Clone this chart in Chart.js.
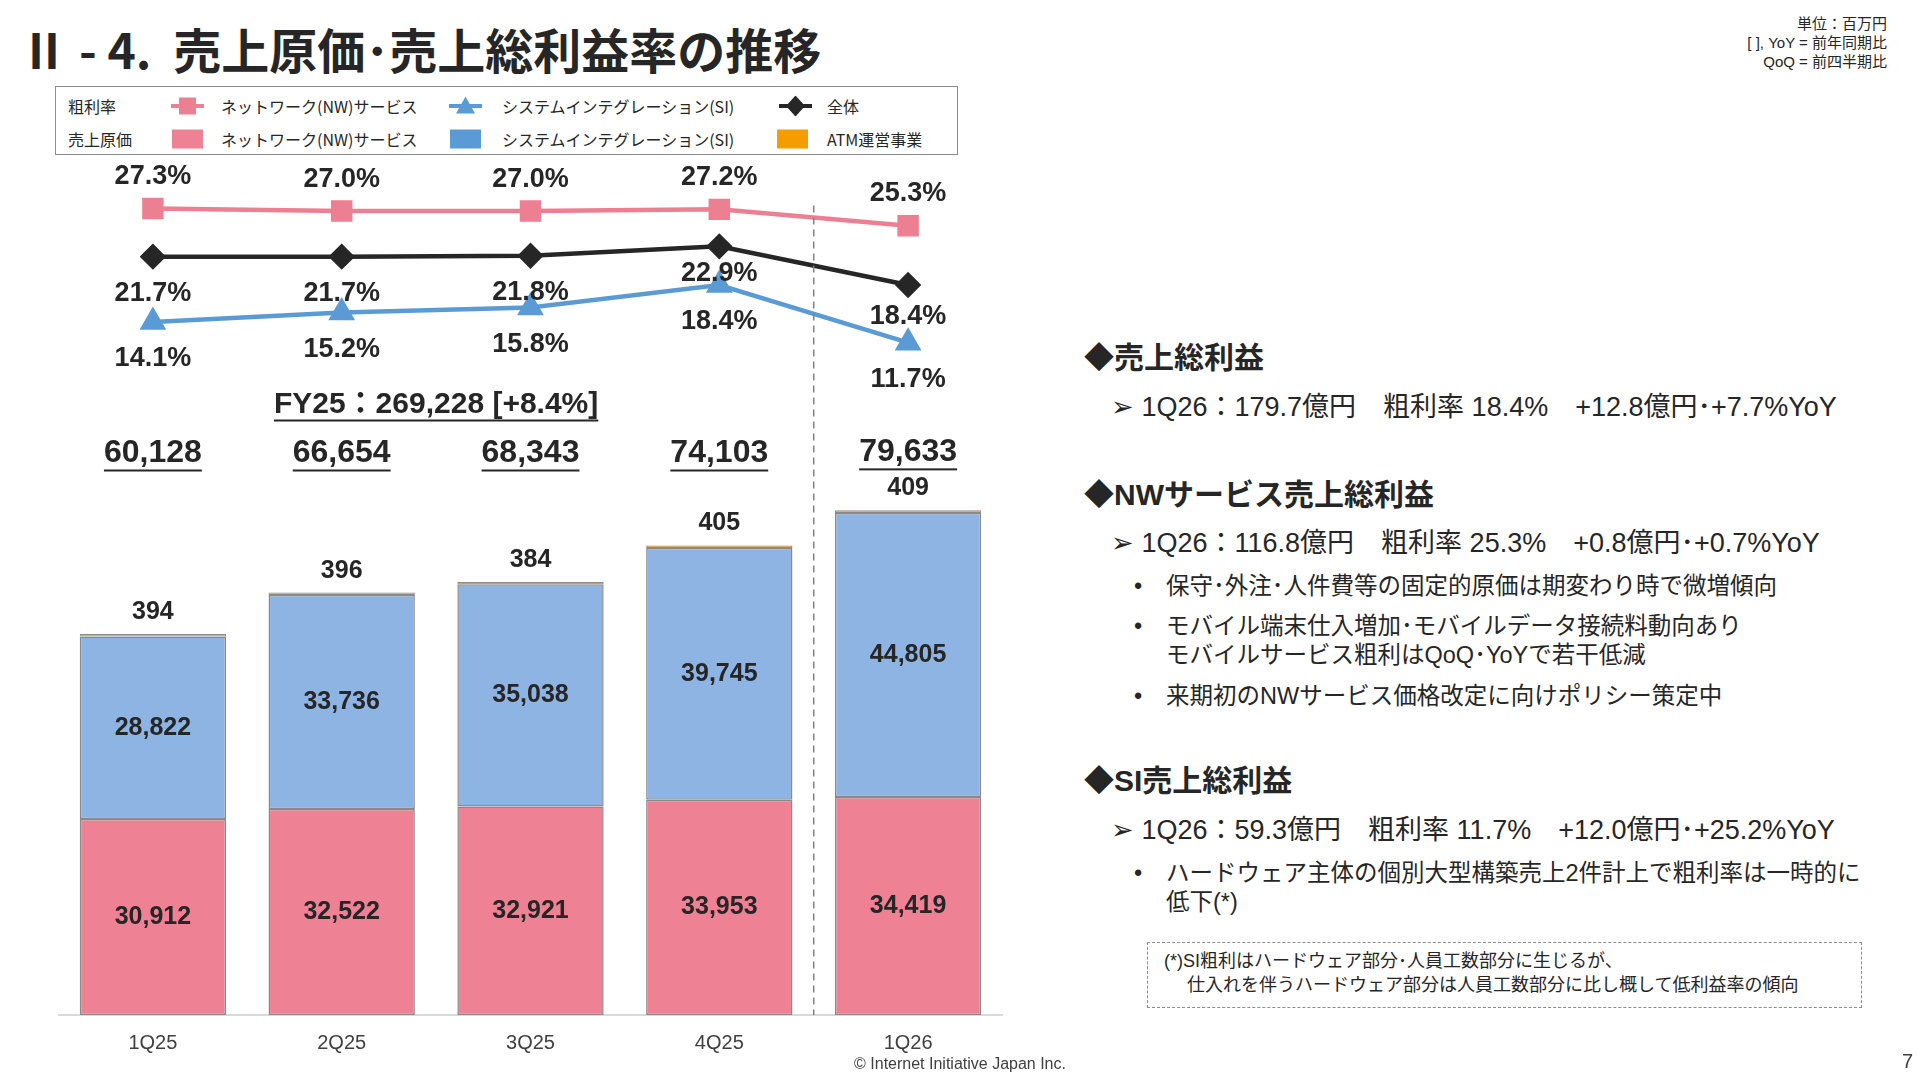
<!DOCTYPE html>
<html lang="ja">
<head>
<meta charset="utf-8">
<title>売上原価・売上総利益率の推移</title>
<script src="https://cdn.jsdelivr.net/npm/chart.js@4.4.1/dist/chart.umd.min.js"></script>
<style>
  html, body { margin: 0; padding: 0; background: #fff; }
  body { width: 1920px; height: 1081px; position: relative; overflow: hidden;
         font-family: "Liberation Sans", "Noto Sans CJK JP", sans-serif; color: #262626; }
  .abs { position: absolute; white-space: nowrap; }
  #title { left: 20px; top: 15px; font-size: 48px; font-weight: bold; line-height: 66px;
           font-family: "Noto Sans CJK JP", sans-serif; }
  #notes { right: 33px; top: 14px; font-size: 15px; line-height: 19px; text-align: right; }
  #legend { left: 55px; top: 86px; width: 901px; height: 67px; border: 1px solid #8c8c8c; }
  .lg { position: absolute; font-size: 16px; line-height: 20px; transform: translateY(-50%);
        font-family: "Noto Sans CJK JP", sans-serif; }
  .lg svg { display: block; }
  #wrap { position: absolute; left: 42px; top: 143px; width: 977px; height: 928px; }
  .side h3 { margin: 0; font-size: 30px; font-weight: bold; line-height: 36px; }
  .side p { margin: 0; font-size: 27px; line-height: 32px; }
  .bl { font-size: 23.5px; line-height: 29px; }
  #note { left: 1147px; top: 942px; width: 713px; height: 64px; border: 1.5px dashed #8c8c8c;
          font-size: 18px; line-height: 24px; }
  #foot { left: 0; width: 1920px; top: 1055px; text-align: center; font-size: 16px; color: #404040; }
  #page { left: 1902px; top: 1050px; font-size: 20px; color: #404040; }
</style>
</head>
<body>
<div id="title" class="abs">Ⅱ - 4.&nbsp;&nbsp;売上原価･売上総利益率の推移</div>
<div id="notes" class="abs">単位：百万円<br>[ ], YoY = 前年同期比<br>QoQ = 前四半期比</div>

<div id="legend" class="abs"></div>

<div id="wrap"><canvas id="costChart"></canvas></div>

<div class="abs side" style="left:1084px; top:340px;"><h3>◆売上総利益</h3></div>
<div class="abs side" style="left:1111px; top:391px;"><p>➢ 1Q26：179.7億円　粗利率 18.4%　+12.8億円･+7.7%YoY</p></div>
<div class="abs side" style="left:1084px; top:477px;"><h3>◆NWサービス売上総利益</h3></div>
<div class="abs side" style="left:1111px; top:527px;"><p>➢ 1Q26：116.8億円　粗利率 25.3%　+0.8億円･+0.7%YoY</p></div>
<div class="abs side bl" style="left:1134px; top:572px;">•</div>
<div class="abs side bl" style="left:1166px; top:572px;">保守･外注･人件費等の固定的原価は期変わり時で微増傾向</div>
<div class="abs side bl" style="left:1134px; top:612px;">•</div>
<div class="abs side bl" style="left:1166px; top:612px;">モバイル端末仕入増加･モバイルデータ接続料動向あり<br>モバイルサービス粗利はQoQ･YoYで若干低減</div>
<div class="abs side bl" style="left:1134px; top:682px;">•</div>
<div class="abs side bl" style="left:1166px; top:682px;">来期初のNWサービス価格改定に向けポリシー策定中</div>
<div class="abs side" style="left:1084px; top:763px;"><h3>◆SI売上総利益</h3></div>
<div class="abs side" style="left:1111px; top:814px;"><p>➢ 1Q26：59.3億円　粗利率 11.7%　+12.0億円･+25.2%YoY</p></div>
<div class="abs side bl" style="left:1134px; top:859px;">•</div>
<div class="abs side bl" style="left:1166px; top:859px;">ハードウェア主体の個別大型構築売上2件計上で粗利率は一時的に<br>低下(*)</div>
<div id="note" class="abs"><div style="padding:6px 0 0 16px;">(*)SI粗利はハードウェア部分･人員工数部分に生じるが、<br>　 仕入れを伴うハードウェア部分は人員工数部分に比し概して低利益率の傾向</div></div>

<div id="foot" class="abs">© Internet Initiative Japan Inc.</div>
<div id="page" class="abs">7</div>

<script>
// 四半期
const quarters = ['1Q25', '2Q25', '3Q25', '4Q25', '1Q26'];

// 売上原価（百万円）
const costNW  = [30912, 32522, 32921, 33953, 34419];
const costSI  = [28822, 33736, 35038, 39745, 44805];
const costATM = [394, 396, 384, 405, 409];

// 粗利率（%）
const marginNW    = [27.3, 27.0, 27.0, 27.2, 25.3];
const marginSI    = [14.1, 15.2, 15.8, 18.4, 11.7];
const marginTotal = [21.7, 21.7, 21.8, 22.9, 18.4];

const fyLabel = 'FY25：269,228 [+8.4%]';

// 色
const PINK = '#ee8194';
const PINK_LINE = '#ec7f91';
const BLUE = '#8eb4e3';
const BLUE_LINE = '#5b9bd5';
const ORANGE = '#f59c00';
const BLACK = '#262626';
const NUM_FONT = '"Liberation Sans", Arial, "Noto Sans CJK JP", sans-serif';

// 凡例（HTML）
function lineMarker(color, shape) {
    let mark = '';
    if (shape === 'rect') mark = `<rect x="8" y="2" width="17" height="17" fill="${color}"/>`;
    if (shape === 'tri') mark = `<polygon points="16.5,1 26,18 7,18" fill="${color}"/>`;
    if (shape === 'dia') mark = `<polygon points="16.5,0 26,10.5 16.5,21 7,10.5" fill="${color}"/>`;
    return `<svg width="33" height="21"><line x1="0" y1="10.5" x2="33" y2="10.5" stroke="${color}" stroke-width="4"/>${mark}</svg>`;
}
function boxMarker(color) {
    return `<svg width="33" height="21"><rect x="1" y="1" width="31" height="19" fill="${color}"/></svg>`;
}
const legendItems = [
    { x: 12,  y: 19, html: '粗利率' },
    { x: 115, y: 19, html: lineMarker(PINK_LINE, 'rect') },
    { x: 165, y: 19, html: 'ネットワーク(NW)サービス' },
    { x: 393, y: 19, html: lineMarker(BLUE_LINE, 'tri') },
    { x: 446, y: 19, html: 'システムインテグレーション(SI)' },
    { x: 723, y: 19, html: lineMarker(BLACK, 'dia') },
    { x: 771, y: 19, html: '全体' },
    { x: 12,  y: 52, html: '売上原価' },
    { x: 115, y: 52, html: boxMarker(PINK) },
    { x: 165, y: 52, html: 'ネットワーク(NW)サービス' },
    { x: 393, y: 52, html: boxMarker('#5b9bd5') },
    { x: 446, y: 52, html: 'システムインテグレーション(SI)' },
    { x: 720, y: 52, html: boxMarker(ORANGE) },
    { x: 771, y: 52, html: 'ATM運営事業' }
];
const legendEl = document.getElementById('legend');
legendItems.forEach(item => {
    const d = document.createElement('div');
    d.className = 'lg';
    d.style.left = item.x + 'px';
    d.style.top = item.y + 'px';
    d.innerHTML = item.html;
    legendEl.appendChild(d);
});

// 合計
const totals = quarters.map((q, i) => costNW[i] + costSI[i] + costATM[i]);

function fmt(n) {
    return n.toLocaleString('en-US');
}

function drawText(ctx, text, x, y, size, underline) {
    ctx.font = `bold ${size}px ${NUM_FONT}`;
    ctx.fillText(text, x, y);
    if (underline) {
        const w = ctx.measureText(text).width;
        ctx.fillRect(x - w / 2, y + size * 0.5, w, 2);
    }
}

// ラベル描画プラグイン
const labelPlugin = {
    id: 'labels',
    afterDatasetsDraw(chart) {
        const ctx = chart.ctx;
        const area = chart.chartArea;
        ctx.save();
        ctx.fillStyle = BLACK;
        ctx.textAlign = 'center';
        ctx.textBaseline = 'middle';

        // 区切り線
        const m0 = chart.getDatasetMeta(0).data;
        const xSep = (m0[3].x + m0[4].x) / 2;
        ctx.save();
        ctx.strokeStyle = '#808080';
        ctx.lineWidth = 1.5;
        ctx.setLineDash([7, 5]);
        ctx.beginPath();
        ctx.moveTo(xSep, area.top + 46);
        ctx.lineTo(xSep, area.bottom);
        ctx.stroke();
        ctx.restore();

        // 棒の中の値
        [0, 1].forEach(di => {
            chart.getDatasetMeta(di).data.forEach((bar, i) => {
                const c = bar.getCenterPoint();
                const v = chart.data.datasets[di].data[i];
                drawText(ctx, fmt(v), c.x, c.y, 25, false);
            });
        });

        // ATM値と合計
        chart.getDatasetMeta(2).data.forEach((bar, i) => {
            const yAtm = bar.y - 22;
            drawText(ctx, fmt(costATM[i]), bar.x, yAtm, 25, false);
            const yTot = Math.min(area.top + 294, yAtm - 36);
            drawText(ctx, fmt(totals[i]), bar.x, yTot, 32, true);
        });

        // FY合計
        const fx = (m0[1].x + m0[2].x) / 2;
        drawText(ctx, fyLabel, fx, area.top + 245, 30, true);

        // 粗利率ラベル
        const offs = {
            3: [-32, -32, -32, -32, -32],
            4: [37, 37, 37, 37, 37],
            5: [37, 37, 37, 27, 32]
        };
        [3, 4, 5].forEach(di => {
            chart.getDatasetMeta(di).data.forEach((pt, i) => {
                const v = chart.data.datasets[di].data[i];
                drawText(ctx, v.toFixed(1) + '%', pt.x, pt.y + offs[di][i], 27, false);
            });
        });
        ctx.restore();
    }
};

const ctx = document.getElementById('costChart').getContext('2d');
const costChart = new Chart(ctx, {
    data: {
        labels: quarters,
        datasets: [
            { type: 'bar', label: 'ネットワーク(NW)サービス', data: costNW, backgroundColor: PINK,
              borderColor: '#8a8a8a', borderWidth: 1.5, borderSkipped: false, stack: 'cost', yAxisID: 'y' },
            { type: 'bar', label: 'システムインテグレーション(SI)', data: costSI, backgroundColor: BLUE,
              borderColor: '#8a8a8a', borderWidth: 1.5, borderSkipped: false, stack: 'cost', yAxisID: 'y' },
            { type: 'bar', label: 'ATM運営事業', data: costATM, backgroundColor: ORANGE,
              borderColor: '#8a8a8a', borderWidth: 1, borderSkipped: false, stack: 'cost', yAxisID: 'y' },
            { type: 'line', label: '粗利率 NW', data: marginNW, borderColor: PINK_LINE, backgroundColor: PINK_LINE,
              borderWidth: 4.5, pointStyle: 'rect', pointRadius: 12, pointHoverRadius: 12, yAxisID: 'y2' },
            { type: 'line', label: '粗利率 SI', data: marginSI, borderColor: BLUE_LINE, backgroundColor: BLUE_LINE,
              borderWidth: 4.5, pointStyle: 'triangle', pointRadius: 11, pointHoverRadius: 11, yAxisID: 'y2' },
            { type: 'line', label: '粗利率 全体', data: marginTotal, borderColor: BLACK, backgroundColor: BLACK,
              borderWidth: 4.5, pointStyle: 'rectRot', pointRadius: 10, pointHoverRadius: 10, yAxisID: 'y2' }
        ]
    },
    options: {
        responsive: true,
        maintainAspectRatio: false,
        animation: false,
        layout: { padding: 0 },
        datasets: { bar: { categoryPercentage: 1, barPercentage: 0.775 } },
        plugins: { legend: { display: false }, tooltip: { enabled: false } },
        scales: {
            x: {
                offset: true,
                grid: { display: false, drawTicks: false },
                border: { display: true, color: '#d9d9d9', width: 2 },
                ticks: { color: '#404040', padding: 16, font: { family: NUM_FONT, size: 20 } }
            },
            y: { display: false, stacked: true, min: 0, max: 135000 },
            y2: { display: false, min: -66.5, max: 33.0 }
        }
    },
    plugins: [labelPlugin]
});
</script>
</body>
</html>
